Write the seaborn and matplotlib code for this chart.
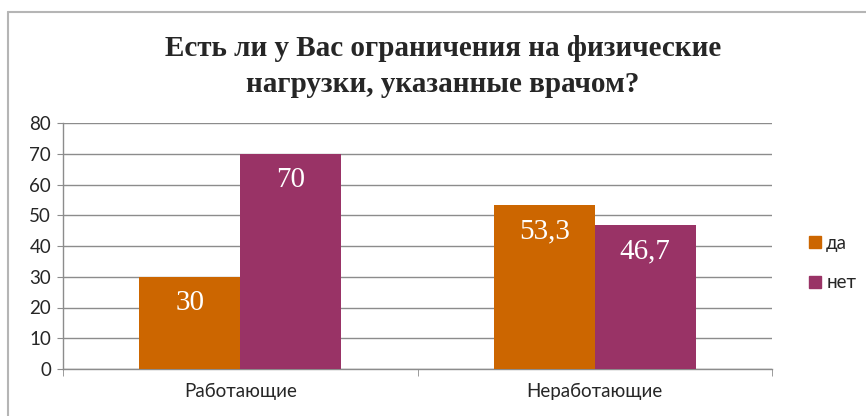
"""Есть ли у Вас ограничения на физические нагрузки — столбчатая диаграмма"""
import pandas as pd
import matplotlib
matplotlib.use("Agg")
import matplotlib.pyplot as plt
from matplotlib.lines import Line2D
import seaborn as sns

categories = ["Работающие", "Неработающие"]
answers = ["да", "нет"]
values_da = [30, 53.3]
values_net = [70, 46.7]
colors = ["#CC6600", "#993366"]
title_lines = ["Есть ли у Вас ограничения на физические", "нагрузки, указанные врачом?"]

df = pd.DataFrame({
    "group": categories * 2,
    "answer": [answers[0]] * 2 + [answers[1]] * 2,
    "value": values_da + values_net,
})

sns.set_style("white")
plt.rcParams["font.family"] = ["Lato", "DejaVu Sans"]

fig = plt.figure(figsize=(8.66, 4.16), dpi=100)
ax = fig.add_axes([63 / 866, 47 / 416, 709 / 866, 246 / 416])

sns.barplot(data=df, x="group", y="value", hue="answer", order=categories,
            hue_order=answers, palette=colors, width=0.57, gap=0,
            saturation=1, linewidth=0, ax=ax, zorder=3)

ax.set_ylim(0, 80)
ax.set_xlim(-0.5, 1.5)
ax.set_yticks(range(0, 81, 10))
ax.yaxis.grid(True, color="#8c8c8c", linewidth=1, zorder=0)
ax.set_xlabel("")
ax.set_ylabel("")
for s in ["top", "right"]:
    ax.spines[s].set_visible(False)
for s in ["left", "bottom"]:
    ax.spines[s].set_color("#8c8c8c")
    ax.spines[s].set_linewidth(1)
ax.tick_params(axis="y", length=4.5, color="#8c8c8c", labelsize=13.5, pad=4, left=True)
ax.tick_params(axis="x", which="major", length=0, labelsize=13.5, pad=10)
ax.set_xticks([-0.5, 0.5, 1.5], minor=True)
ax.tick_params(axis="x", which="minor", length=5, color="#8c8c8c", bottom=True)

for p in ax.patches:
    h = p.get_height()
    if h <= 0:
        continue
    txt = f"{h:g}".replace(".", ",")
    ax.annotate(txt, (p.get_x() + p.get_width() / 2, h), xytext=(0, -19),
                textcoords="offset points", ha="center", va="center",
                color="white", fontsize=21, family="Liberation Serif", zorder=5)

handles = [Line2D([], [], marker="s", linestyle="", markersize=8,
                  markerfacecolor=c, markeredgecolor=c) for c in colors]
ax.legend(handles, answers, loc="center left",
          bbox_to_anchor=(798 / 866, 1 - 263 / 416),
          bbox_transform=fig.transFigure, frameon=False, fontsize=13.5,
          handletextpad=0.1, labelspacing=1.2, handlelength=1.0, borderaxespad=0)

for i, line in enumerate(title_lines):
    fig.text(443 / 866, 1 - (48 + 37 * i) / 416, line, ha="center", va="center",
             fontsize=21, fontweight="bold", family="Liberation Serif")

# рамка диаграммы
fig.add_artist(Line2D([8 / 866, 8 / 866], [0, 1 - 12 / 416], transform=fig.transFigure,
                      color="#b5b5b5", linewidth=1.5))
fig.add_artist(Line2D([8 / 866, 1], [1 - 12 / 416, 1 - 12 / 416], transform=fig.transFigure,
                      color="#b5b5b5", linewidth=1.5))

fig.savefig("out.png", dpi=100)
